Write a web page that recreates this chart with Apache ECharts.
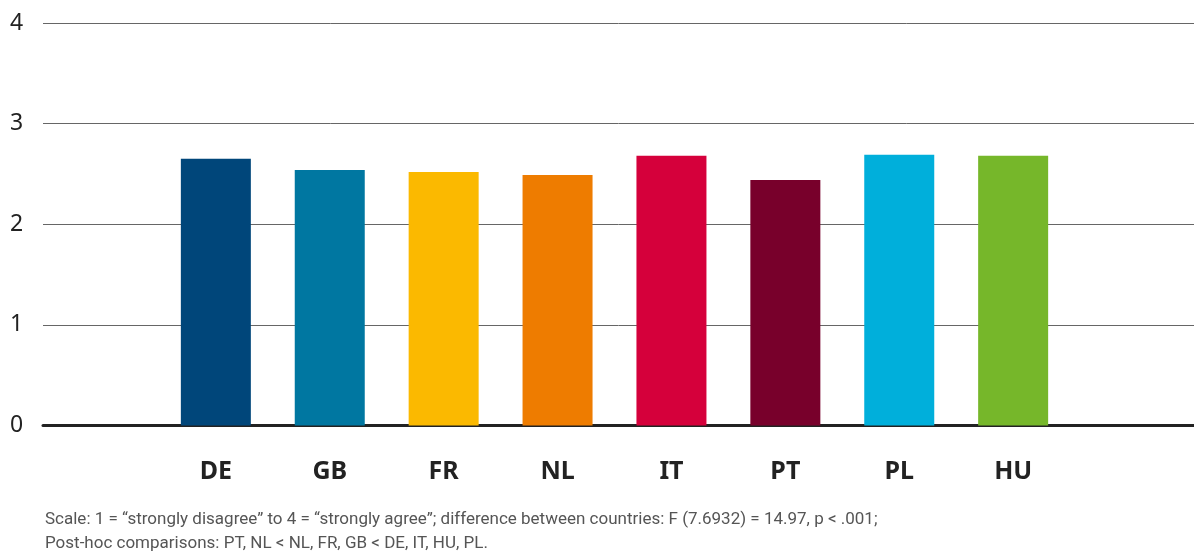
<!DOCTYPE html>
<html>
<head>
<meta charset="utf-8">
<script src="https://cdn.jsdelivr.net/npm/echarts@6/dist/echarts.min.js"></script>
<style>
  html, body { margin: 0; padding: 0; background: #fff; }
  #chart { width: 1194px; height: 556px; }
</style>
</head>
<body>
<div id="chart"></div>
<script>
// Dữ liệu biểu đồ
const countries = ['DE', 'GB', 'FR', 'NL', 'IT', 'PT', 'PL', 'HU']
const values = [2.65, 2.54, 2.52, 2.49, 2.68, 2.44, 2.69, 2.68]
const barColors = ['#00467a', '#0077a1', '#fbb900', '#ee7c00', '#d5003b', '#78002b', '#00afdb', '#76b72a']
const yTicks = [0, 1, 2, 3, 4]
const footnote = [
  'Scale: 1 = \u201cstrongly disagree\u201d to 4 = \u201cstrongly agree\u201d; difference between countries: F (7.6932) = 14.97, p < .001;',
  'Post-hoc comparisons: PT, NL < NL, FR, GB < DE, IT, HU, PL.'
]

// Một ô trống ở đầu và cuối trục
const categories = ['', ...countries, '']
const barData = [null, ...values.map((v, i) => ({ value: v, itemStyle: { color: barColors[i] } })), null]

const chart = echarts.init(document.getElementById('chart'))

const option = {
  animation: false,
  title: {
    text: footnote.join('\n'),
    left: 45,
    top: 508,
    padding: 0,
    textStyle: {
      fontFamily: 'Roboto',
      fontSize: 17,
      fontWeight: 'normal',
      color: '#555',
      lineHeight: 24
    }
  },
  grid: [
    { left: 43, right: 0, top: 23, bottom: 130.5 },
    { left: 45, right: 10, top: 23, bottom: 130.5 }
  ],
  xAxis: [
    {
      gridIndex: 0,
      type: 'value',
      min: 0,
      max: 1,
      axisLine: { show: true, lineStyle: { color: '#222', width: 3 } },
      axisTick: { show: false },
      axisLabel: { show: false },
      splitLine: { show: false }
    },
    {
      gridIndex: 1,
      type: 'category',
      data: categories,
      axisLine: { show: false },
      axisTick: { show: false },
      axisLabel: {
        margin: 34,
        fontFamily: 'Noto Sans',
        fontSize: 25,
        fontWeight: 'bold',
        color: '#222'
      }
    }
  ],
  yAxis: [
    {
      gridIndex: 0,
      type: 'value',
      min: yTicks[0],
      max: yTicks[yTicks.length - 1],
      interval: 1,
      axisLine: { show: false },
      axisTick: { show: false },
      axisLabel: {
        align: 'left',
        margin: 33,
        fontFamily: 'Noto Sans',
        fontSize: 23,
        color: '#222',
        formatter: v => String(v)
      },
      splitLine: { lineStyle: { color: '#666', width: 1 } }
    },
    {
      gridIndex: 1,
      type: 'value',
      min: yTicks[0],
      max: yTicks[yTicks.length - 1],
      show: false
    }
  ],
  series: [
    {
      type: 'bar',
      xAxisIndex: 1,
      yAxisIndex: 1,
      data: barData,
      barWidth: 70,
      z: 1
    }
  ]
}

chart.setOption(option)
</script>
</body>
</html>
